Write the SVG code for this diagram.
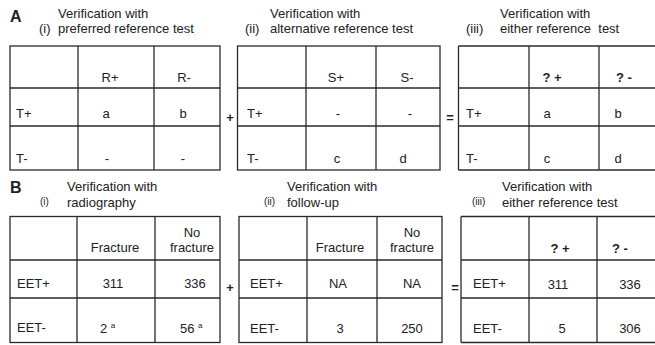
<svg xmlns="http://www.w3.org/2000/svg" width="655" height="345" viewBox="0 0 655 345">
<style>
text{font-family:"Liberation Sans",Arial,sans-serif;font-size:13px;fill:#222;}
.c{text-anchor:middle;}
.b{font-weight:bold;}
.big{font-size:16px;font-weight:bold;}
.sm{font-size:10px;}
.op{font-weight:bold;font-size:13px;text-anchor:middle;}
.g line,.g rect{stroke:#2a2a2a;stroke-width:1.3;fill:none;}
</style>
<rect width="655" height="345" fill="#fff"/>
<text class="big" x="10" y="22">A</text>
<text class="big" x="10" y="193">B</text>

<g id="A1">
<text x="58" y="18">Verification with</text>
<text x="39" y="33">(i)</text>
<text x="58" y="33">preferred reference test</text>
<g class="g"><rect x="10" y="46" width="210" height="124"/><line x1="78" y1="46" x2="78" y2="170"/><line x1="154" y1="46" x2="154" y2="170"/><line x1="10" y1="88" x2="220" y2="88"/><line x1="10" y1="126" x2="220" y2="126"/></g>
<text class="c" x="110" y="82">R+</text><text class="c" x="184" y="82">R-</text>
<text x="16" y="118">T+</text><text class="c" x="106" y="118">a</text><text class="c" x="183" y="118">b</text>
<text x="16" y="163">T-</text><text class="c" x="107" y="163">-</text><text class="c" x="183" y="163">-</text>
</g>

<g id="A2">
<text x="270" y="18">Verification with</text>
<text x="245" y="33">(ii)</text>
<text x="270" y="33">alternative reference test</text>
<g class="g"><rect x="237.5" y="46" width="202.5" height="124"/><line x1="306" y1="46" x2="306" y2="170"/><line x1="376" y1="46" x2="376" y2="170"/><line x1="237.5" y1="88" x2="440" y2="88"/><line x1="237.5" y1="126" x2="440" y2="126"/></g>
<text class="c" x="336" y="82">S+</text><text class="c" x="407" y="82">S-</text>
<text x="247" y="118">T+</text><text class="c" x="338" y="118">-</text><text class="c" x="410" y="118">-</text>
<text x="247" y="163">T-</text><text class="c" x="337" y="163">c</text><text class="c" x="403" y="163">d</text>
</g>

<g id="A3">
<text x="500" y="18">Verification with</text>
<text x="466" y="33">(iii)</text>
<text x="500" y="33" xml:space="preserve">either reference  test</text>
<g class="g"><line x1="458.5" y1="46" x2="655" y2="46"/><line x1="458.5" y1="170" x2="655" y2="170"/><line x1="458.5" y1="46" x2="458.5" y2="170"/><line x1="529" y1="46" x2="529" y2="170"/><line x1="599" y1="46" x2="599" y2="170"/><line x1="458.5" y1="88" x2="655" y2="88"/><line x1="458.5" y1="126" x2="655" y2="126"/></g>
<text class="c b" x="552" y="82">? +</text><text class="c b" x="624" y="82">? -</text>
<text x="466" y="118">T+</text><text class="c" x="547" y="118">a</text><text class="c" x="618" y="118">b</text>
<text x="466" y="163">T-</text><text class="c" x="547" y="163">c</text><text class="c" x="618" y="163">d</text>
</g>

<g id="B1">
<text x="67" y="191">Verification with</text>
<text class="sm" x="40" y="205">(i)</text>
<text x="67" y="207">radiography</text>
<g class="g"><rect x="10" y="216.5" width="210" height="126"/><line x1="77" y1="216.5" x2="77" y2="342.5"/><line x1="155" y1="216.5" x2="155" y2="342.5"/><line x1="10" y1="260" x2="220" y2="260"/><line x1="10" y1="298" x2="220" y2="298"/></g>
<text class="c" x="115" y="252">Fracture</text><text class="c" x="192" y="237">No</text><text class="c" x="192" y="252">fracture</text>
<text x="17" y="288">EET+</text><text class="c" x="113" y="288">311</text><text class="c" x="195" y="288">336</text>
<text x="17" y="332">EET-</text><text x="100" y="333">2 <tspan font-size="8" dy="-5">a</tspan></text><text x="180" y="333">56 <tspan font-size="8" dy="-5">a</tspan></text>
</g>

<g id="B2">
<text x="287" y="191">Verification with</text>
<text class="sm" x="264" y="205">(ii)</text>
<text x="287" y="207">follow-up</text>
<g class="g"><rect x="239" y="216.5" width="203" height="126"/><line x1="307" y1="216.5" x2="307" y2="342.5"/><line x1="377" y1="216.5" x2="377" y2="342.5"/><line x1="239" y1="260" x2="442" y2="260"/><line x1="239" y1="298" x2="442" y2="298"/></g>
<text class="c" x="340" y="252">Fracture</text><text class="c" x="412" y="237">No</text><text class="c" x="412" y="252">fracture</text>
<text x="250" y="288">EET+</text><text class="c" x="338" y="288">NA</text><text class="c" x="412" y="288">NA</text>
<text x="250" y="333">EET-</text><text class="c" x="340" y="333">3</text><text class="c" x="412" y="333">250</text>
</g>

<g id="B3">
<text x="502" y="191">Verification with</text>
<text class="sm" x="472" y="205">(iii)</text>
<text x="502" y="207">either reference test</text>
<g class="g"><line x1="461" y1="216.5" x2="655" y2="216.5"/><line x1="461" y1="342.5" x2="655" y2="342.5"/><line x1="461" y1="216.5" x2="461" y2="342.5"/><line x1="529" y1="216.5" x2="529" y2="342.5"/><line x1="597" y1="216.5" x2="597" y2="342.5"/><line x1="461" y1="260" x2="655" y2="260"/><line x1="461" y1="298" x2="655" y2="298"/></g>
<text class="c b" x="560" y="253">? +</text><text class="c b" x="620" y="253">? -</text>
<text x="473" y="288">EET+</text><text class="c" x="558" y="289">311</text><text class="c" x="630" y="289">336</text>
<text x="473" y="333">EET-</text><text class="c" x="562" y="333">5</text><text class="c" x="630" y="333">306</text>
</g>

<g id="connectors">
<text class="op" x="230" y="122">+</text>
<text class="op" x="450" y="122">=</text>
<text class="op" x="230" y="292">+</text>
<text class="op" x="455" y="292">=</text>
</g>
</svg>
